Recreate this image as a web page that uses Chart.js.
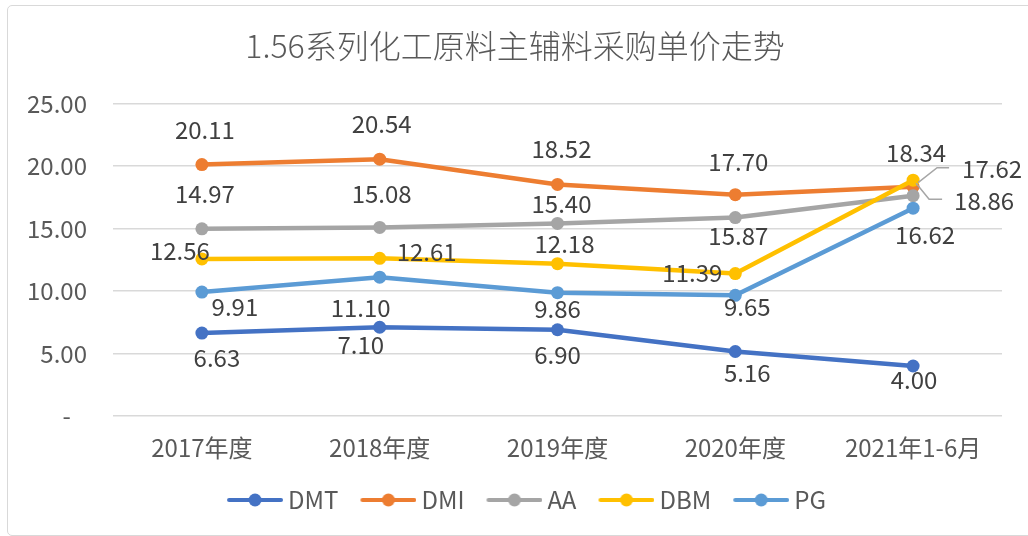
<!DOCTYPE html>
<html>
<head>
<meta charset="utf-8">
<script src="https://cdn.jsdelivr.net/npm/chart.js@4.4.1/dist/chart.umd.min.js"></script>
<style>
  html, body { margin: 0; padding: 0; background: #fff; }
  #frame {
    position: absolute; left: 7px; top: 5px; width: 1040px; height: 531px;
    box-sizing: border-box; border: 1.5px solid #d9d9d9; border-radius: 5px;
  }
  #chart { position: absolute; left: 0; top: 0; }
</style>
</head>
<body>
<div id="frame"></div>
<canvas id="chart" width="1028" height="536"></canvas>
<script>
const categories = ['2017年度', '2018年度', '2019年度', '2020年度', '2021年1-6月'];
const dmtValues = [6.63, 7.10, 6.90, 5.16, 4.00];
const dmiValues = [20.11, 20.54, 18.52, 17.70, 18.34];
const aaValues = [14.97, 15.08, 15.40, 15.87, 17.62];
const dbmValues = [12.56, 12.61, 12.18, 11.39, 18.86];
const pgValues = [9.91, 11.10, 9.86, 9.65, 16.62];
const yTicks = [0, 5, 10, 15, 20, 25];

const FONT = '"Noto Sans CJK SC", "Noto Sans", sans-serif';

const seriesColors = {
  'DMT': '#4472C4',
  'DMI': '#ED7D31',
  'AA': '#A5A5A5',
  'DBM': '#FFC000',
  'PG': '#5B9BD5'
};

// where each value label sits, relative to its point (label centre)
const labelOffsets = {
  'DMT': [[15, 25], [-19, 18], [0, 25], [12, 21], [1, 14]],
  'DMI': [[3, -35], [2, -35], [4, -36], [3, -33], [3, -34]],
  'AA':  [[3, -35], [2, -34], [4, -20], [3, 18], [79, -27]],
  'DBM': [[-22, -8], [47, -6], [7, -20], [-43, -1], [71, 21]],
  'PG':  [[33, 15], [-19, 31], [0, 16], [12, 12], [12, 27]]
};

// leader lines for the labels pushed out to the right of the last column
const leaderLines = {
  'AA':  { index: 4, path: [[5, -13], [24, -28], [36, -28]] },
  'DBM': { index: 4, path: [[3, 3], [16, 19], [29, 19]] }
};

// legend marker: short line with a dot, drawn into the right part of a
// wider canvas so the text sits close to it
function legendIcon(color) {
  const c = document.createElement('canvas');
  c.width = 62;
  c.height = 16;
  const g = c.getContext('2d');
  g.strokeStyle = color;
  g.lineWidth = 4;
  g.lineCap = 'round';
  g.beginPath();
  g.moveTo(8, 8);
  g.lineTo(60, 8);
  g.stroke();
  g.fillStyle = color;
  g.beginPath();
  g.arc(34, 8, 6.5, 0, Math.PI * 2);
  g.fill();
  return c;
}

function makeDataset(name, values, order) {
  const color = seriesColors[name];
  return {
    label: name,
    data: values,
    order: order,
    borderColor: color,
    backgroundColor: color,
    borderWidth: 4.5,
    borderCapStyle: 'round',
    borderJoinStyle: 'round',
    pointRadius: 6.5,
    pointBorderWidth: 0,
    pointBackgroundColor: color,
    pointBorderColor: color,
    tension: 0,
    fill: false
  };
}

const valueLabels = {
  id: 'valueLabels',
  afterDatasetsDraw(chart) {
    const ctx = chart.ctx;
    ctx.save();

    ctx.strokeStyle = '#A6A6A6';
    ctx.lineWidth = 1.5;
    chart.data.datasets.forEach((ds, di) => {
      const leader = leaderLines[ds.label];
      if (!leader) return;
      const pt = chart.getDatasetMeta(di).data[leader.index];
      ctx.beginPath();
      leader.path.forEach(([dx, dy], k) => {
        if (k === 0) ctx.moveTo(pt.x + dx, pt.y + dy);
        else ctx.lineTo(pt.x + dx, pt.y + dy);
      });
      ctx.stroke();
    });

    ctx.font = '24px ' + FONT;
    ctx.fillStyle = '#404040';
    ctx.textAlign = 'center';
    ctx.textBaseline = 'middle';
    chart.data.datasets.forEach((ds, di) => {
      const meta = chart.getDatasetMeta(di);
      meta.data.forEach((pt, i) => {
        const [dx, dy] = labelOffsets[ds.label][i];
        ctx.fillText(ds.data[i].toFixed(2), pt.x + dx, pt.y + dy);
      });
    });
    ctx.restore();
  }
};

// nudge the legend row a little to the right of the canvas centre
const legendShift = {
  id: 'legendShift',
  afterLayout(chart) {
    if (!chart.legend) return;
    chart.legend.left += 12;
    chart.legend.right += 12;
  }
};

const canvas = document.getElementById('chart');

new Chart(canvas, {
  type: 'line',
  data: {
    labels: categories,
    datasets: [
      makeDataset('DMT', dmtValues, 4),
      makeDataset('DMI', dmiValues, 3),
      makeDataset('AA', aaValues, 2),
      makeDataset('DBM', dbmValues, 1),
      makeDataset('PG', pgValues, 0)
    ]
  },
  options: {
    responsive: false,
    animation: false,
    devicePixelRatio: 1,
    layout: {
      padding: { left: 28, right: 26, top: 0, bottom: 14 }
    },
    plugins: {
      title: {
        display: true,
        text: '1.56系列化工原料主辅料采购单价走势',
        color: '#595959',
        font: { family: FONT, size: 32, weight: '300' },
        padding: { top: 27, bottom: 38 }
      },
      legend: {
        display: true,
        position: 'bottom',
        labels: {
          usePointStyle: true,
          pointStyleWidth: 48,
          padding: 23,
          color: '#595959',
          font: { family: FONT, size: 24 },
          generateLabels: chart => chart.data.datasets.map((ds, i) => ({
            text: ds.label,
            pointStyle: legendIcon(ds.borderColor),
            fillStyle: ds.borderColor,
            strokeStyle: ds.borderColor,
            lineWidth: 0,
            hidden: false,
            fontColor: '#595959',
            datasetIndex: i
          }))
        }
      },
      tooltip: { enabled: false }
    },
    scales: {
      x: {
        offset: true,
        grid: { display: false },
        border: { display: false },
        ticks: {
          color: '#595959',
          padding: 9,
          maxRotation: 0,
          font: { family: FONT, size: 24 }
        },
        afterFit(scale) { scale.height = 49; }
      },
      y: {
        min: yTicks[0],
        max: yTicks[yTicks.length - 1],
        afterBuildTicks(scale) {
          scale.ticks = yTicks.map(v => ({ value: v }));
        },
        grid: {
          color: '#d9d9d9',
          lineWidth: 1.5,
          drawTicks: false
        },
        border: { display: false },
        ticks: {
          color: '#595959',
          padding: 26,
          font: { family: FONT, size: 24 },
          callback: value => value === 0 ? '-   ' : value.toFixed(2)
        },
        afterFit(scale) { scale.width = 85; }
      }
    }
  },
  plugins: [valueLabels, legendShift]
});
</script>
</body>
</html>
